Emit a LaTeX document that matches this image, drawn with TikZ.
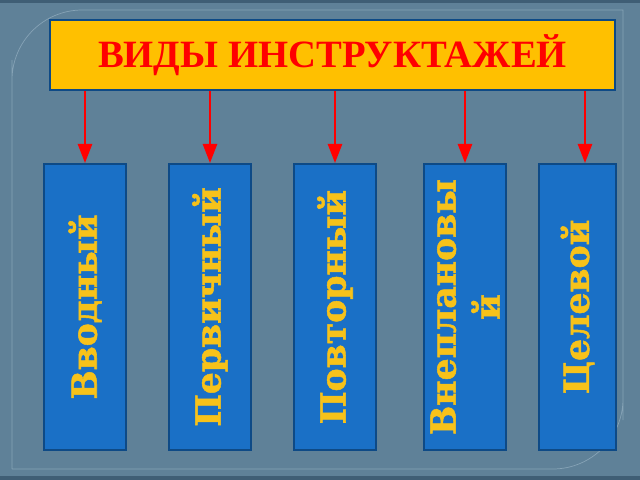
\documentclass[tikz,border=0pt]{standalone}
\usepackage{fontspec}
\usepackage{tikz}
\usetikzlibrary{positioning,arrows.meta}
\setmainfont{Liberation Serif}
\newfontfamily\kindfont{DejaVu Serif}[BoldFeatures={FakeBold=1.5}]
\definecolor{bgblue}{HTML}{5F8198}
\definecolor{edgeblue}{HTML}{3F5E75}
\definecolor{framegray}{HTML}{86A3B6}
\definecolor{titlegold}{HTML}{FFC000}
\definecolor{kindblue}{HTML}{1A70C6}
\definecolor{kindline}{HTML}{0E4A86}
\definecolor{kindtext}{HTML}{F7C21A}

\begin{document}
\begin{tikzpicture}[x=0.02cm,y=-0.02cm,
  mytitle/.style = {draw=kindline, line width=1.2pt, fill=titlegold, minimum width=11.3cm, minimum height=1.4cm, text=red, font=\fontsize{22}{24}\selectfont\bfseries},
  mykind/.style = {draw=kindline, line width=1pt, fill=kindblue, rotate=90, minimum width=5.72cm, minimum height=1.64cm, align=center, text=kindtext, font=\kindfont\fontsize{19.7}{25}\selectfont\bfseries, inner sep=0pt},
  myarrow/.style = {red, line width=1.6pt, -{Triangle[length=11pt,width=8pt]}}]
% background and frame
\fill[edgeblue] (0,0) rectangle (640,480);
\fill[bgblue] (0,3) rectangle (640,476);
\draw[framegray, thin] (12,469) -- (12,60) [rounded corners=40] -- (12,10) [sharp corners] -- (623,10) -- (623,420) [rounded corners=40] -- (623,469) [sharp corners] -- (12,469);
% title
\node[mytitle] (title) at (332.5,55) {ВИДЫ ИНСТРУКТАЖЕЙ};
% kinds
\node[mykind] (k1) at (85,307) {Вводный};
\node[mykind] (k2) at (210,307) {Первичный};
\node[mykind] (k3) at (335,307) {Повторный};
\node[mykind] (k4) at (465,307) {Внеплановы\\й};
\node[mykind, minimum height=1.54cm] (k5) at (577.5,307) {Целевой};
% arrows
\draw[myarrow] (title.south -| k1) -- (k1.east);
\draw[myarrow] (title.south -| k2) -- (k2.east);
\draw[myarrow] (title.south -| k3) -- (k3.east);
\draw[myarrow] (title.south -| k4) -- (k4.east);
\draw[myarrow] (title.south -| 585,0) -- (k5.east -| 585,0);
\end{tikzpicture}
\end{document}
